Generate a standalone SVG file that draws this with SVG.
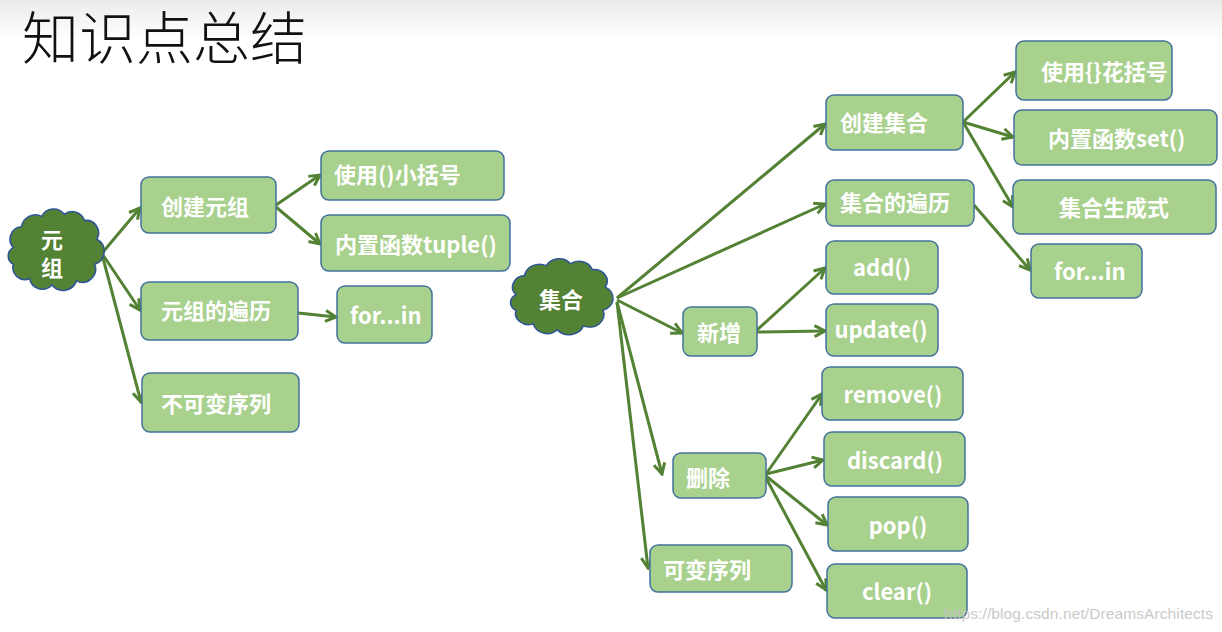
<svg xmlns="http://www.w3.org/2000/svg" width="1222" height="632" viewBox="0 0 1222 632">
<style>
.box{fill:#A9D18E;stroke:#41719C;stroke-width:1.5}
.cloud{fill:#548235;stroke:#2F5597;stroke-width:1.5}
.t{font-family:"Noto Sans CJK SC","Microsoft YaHei",sans-serif;font-weight:bold;font-size:22px;fill:#FFFFFF}
.m{text-anchor:middle}
.conn line{stroke:#548235;stroke-width:3;marker-end:url(#ah)}
</style>
<defs>
<linearGradient id="bg" x1="0" y1="0" x2="0" y2="1">
<stop offset="0" stop-color="#ebebeb"/>
<stop offset="1" stop-color="#ffffff"/>
</linearGradient>
<marker id="ah" viewBox="0 0 14 14" markerUnits="userSpaceOnUse" markerWidth="14" markerHeight="14" refX="12" refY="7" orient="auto">
<path d="M1.5,1.5 L12,7 L1.5,12.5" fill="none" stroke="#548235" stroke-width="3"/>
</marker>
<path id="cl" d="M10 40 A12 12 0 0 1 18 20 A14 14 0 0 1 38 10 A13 13 0 0 1 60 8 A13 13 0 0 1 80 14 A12 12 0 0 1 92 32 A13 13 0 0 1 90 56 A13 13 0 0 1 72 72 A14 14 0 0 1 48 76 A13 13 0 0 1 26 70 A12 12 0 0 1 10 56 A9 9 0 0 1 10 40 Z"/>
</defs>
<rect width="1222" height="632" fill="#ffffff"/>
<rect width="1222" height="40" fill="url(#bg)"/>
<text x="22" y="59" style="font-family:'Noto Sans CJK SC','Microsoft YaHei',sans-serif;font-size:57px;font-weight:300;fill:#111111">知识点总结</text>

<g id="connectors" class="conn">
<line x1="103" y1="252" x2="140" y2="208"/>
<line x1="103" y1="255" x2="140" y2="310"/>
<line x1="103" y1="258" x2="141" y2="402"/>
<line x1="276" y1="205" x2="320" y2="175"/>
<line x1="276" y1="207" x2="320" y2="244"/>
<line x1="298" y1="313" x2="336" y2="317"/>
<line x1="617" y1="298" x2="825" y2="124"/>
<line x1="617" y1="298" x2="825" y2="204"/>
<line x1="617" y1="300" x2="682" y2="333"/>
<line x1="617" y1="302" x2="662" y2="474"/>
<line x1="617" y1="302" x2="648" y2="568"/>
<line x1="963" y1="122" x2="1015" y2="72"/>
<line x1="963" y1="122" x2="1013" y2="137"/>
<line x1="963" y1="122" x2="1013" y2="207"/>
<line x1="974" y1="205" x2="1030" y2="270"/>
<line x1="757" y1="330" x2="825" y2="268"/>
<line x1="757" y1="332" x2="825" y2="331"/>
<line x1="766" y1="474" x2="822" y2="394"/>
<line x1="766" y1="474" x2="823" y2="460"/>
<line x1="766" y1="476" x2="827" y2="525"/>
<line x1="766" y1="478" x2="826" y2="590"/>
</g>

<g id="tuple">
<use href="#cl" class="cloud" transform="translate(3,206) scale(1.02,1.04)"/>
<text class="t m" x="52" y="248">元<tspan x="52" y="276">组</tspan></text>
</g>
<g id="create-tuple"><rect class="box" x="141" y="177" width="135" height="56" rx="8"/><text class="t" x="161" y="215">创建元组</text></g>
<g id="paren"><rect class="box" x="321" y="151" width="183" height="49" rx="8"/><text class="t" x="334" y="183">使用()小括号</text></g>
<g id="tuple-fn"><rect class="box" x="321" y="215" width="189" height="56" rx="8"/><text class="t" x="335" y="253">内置函数tuple()</text></g>
<g id="tuple-iter"><rect class="box" x="141" y="282" width="157" height="58" rx="8"/><text class="t" x="161" y="319">元组的遍历</text></g>
<g id="tuple-forin"><rect class="box" x="337" y="286" width="95" height="57" rx="8"/><text class="t" x="350" y="324">for...in</text></g>
<g id="immutable"><rect class="box" x="142" y="373" width="157" height="59" rx="8"/><text class="t" x="161" y="412">不可变序列</text></g>

<g id="set">
<use href="#cl" class="cloud" transform="translate(505,256) scale(1.09,0.97)"/>
<text class="t m" x="561" y="308">集合</text>
</g>
<g id="create-set"><rect class="box" x="826" y="95" width="137" height="55" rx="8"/><text class="t" x="840" y="131">创建集合</text></g>
<g id="brace"><rect class="box" x="1016" y="41" width="156" height="59" rx="8"/><text class="t" x="1041" y="80">使用{}花括号</text></g>
<g id="set-fn"><rect class="box" x="1014" y="110" width="203" height="55" rx="8"/><text class="t" x="1048" y="147">内置函数set()</text></g>
<g id="set-comp"><rect class="box" x="1013" y="180" width="203" height="54" rx="8"/><text class="t" x="1059" y="216">集合生成式</text></g>
<g id="set-iter"><rect class="box" x="826" y="180" width="148" height="46" rx="8"/><text class="t" x="840" y="211">集合的遍历</text></g>
<g id="set-forin"><rect class="box" x="1031" y="244" width="111" height="54" rx="8"/><text class="t" x="1054" y="280">for...in</text></g>
<g id="add-op"><rect class="box" x="683" y="307" width="74" height="49" rx="8"/><text class="t" x="697" y="341">新增</text></g>
<g id="add"><rect class="box" x="826" y="241" width="112" height="53" rx="8"/><text class="t m" x="882" y="276">add()</text></g>
<g id="update"><rect class="box" x="826" y="304" width="112" height="52" rx="8"/><text class="t m" x="881" y="338">update()</text></g>
<g id="del-op"><rect class="box" x="673" y="453" width="93" height="45" rx="8"/><text class="t" x="686" y="486">删除</text></g>
<g id="remove"><rect class="box" x="822" y="367" width="141" height="53" rx="8"/><text class="t m" x="893" y="403">remove()</text></g>
<g id="discard"><rect class="box" x="824" y="432" width="141" height="54" rx="8"/><text class="t m" x="895" y="469">discard()</text></g>
<g id="pop"><rect class="box" x="828" y="497" width="140" height="54" rx="8"/><text class="t m" x="898" y="534">pop()</text></g>
<g id="clear"><rect class="box" x="827" y="564" width="140" height="54" rx="8"/><text class="t m" x="897" y="600">clear()</text></g>
<g id="mutable"><rect class="box" x="650" y="545" width="142" height="47" rx="8"/><text class="t" x="663" y="578">可变序列</text></g>

<text x="944" y="619" textLength="269" style="font-family:'Liberation Sans',Arial,sans-serif;font-size:15.5px;fill:#c4c4c4;opacity:0.9">https://blog.csdn.net/DreamsArchitects</text>
</svg>
